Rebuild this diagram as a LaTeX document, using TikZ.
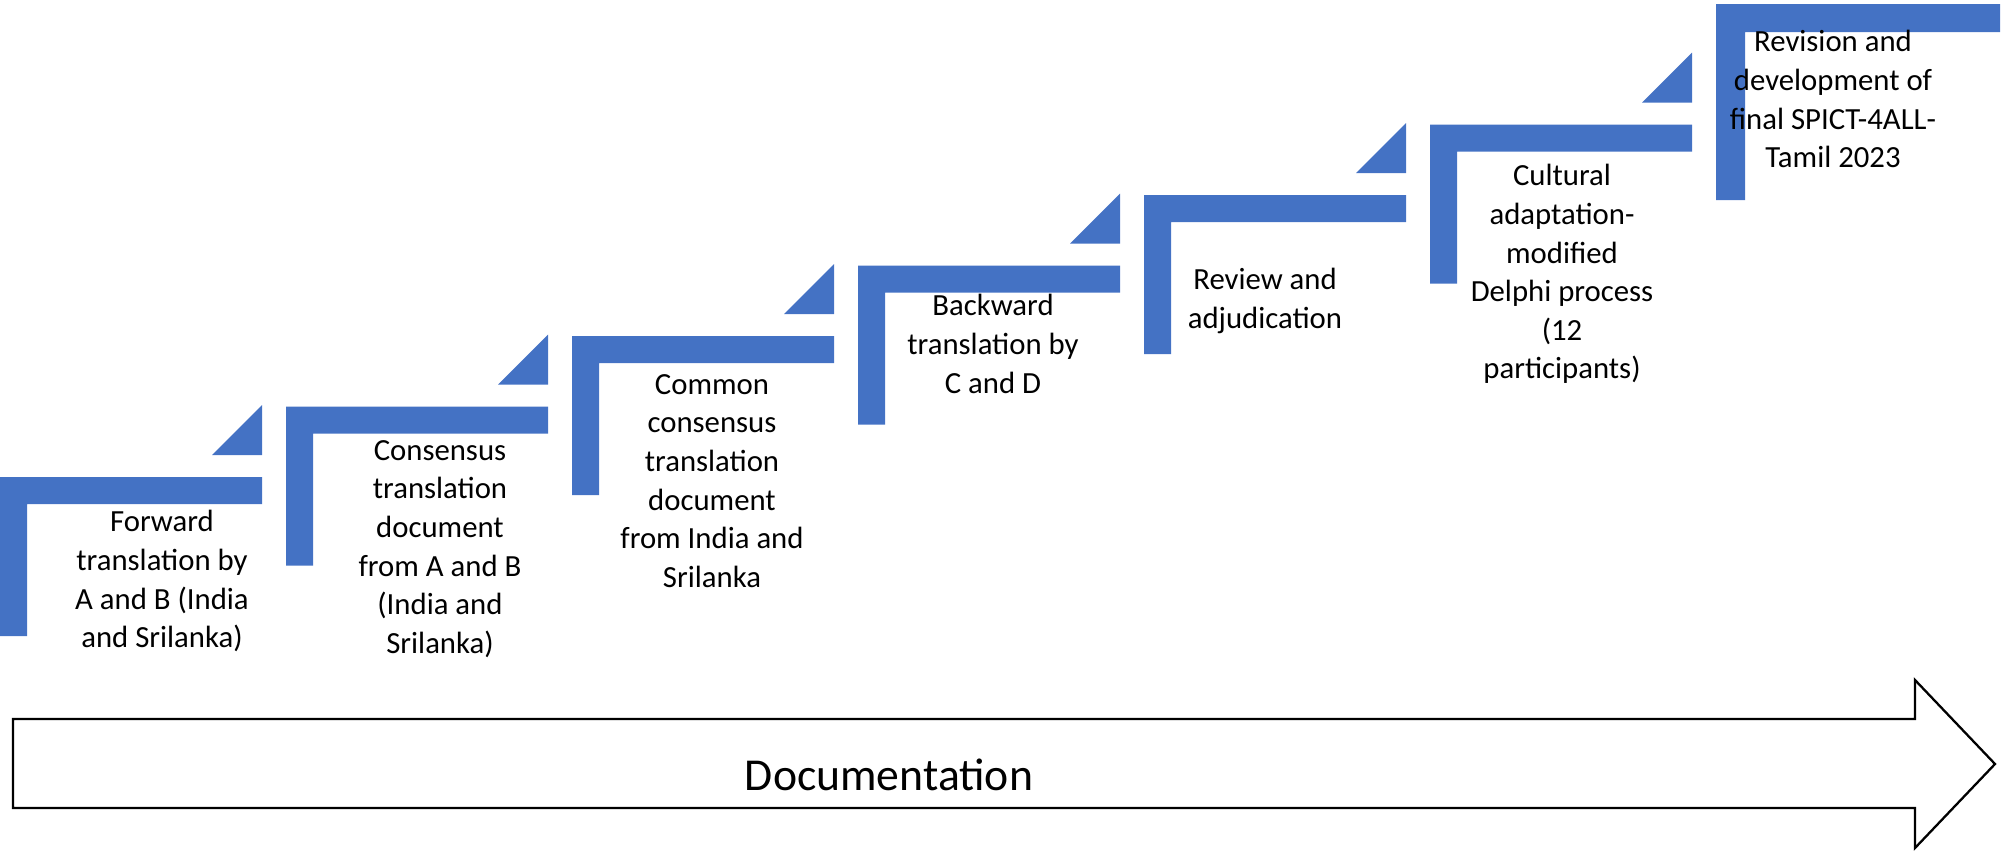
\documentclass[tikz,border=0pt]{standalone}
\usepackage{fontspec}
\setmainfont{Carlito}
\definecolor{stepblue}{RGB}{68,114,196}
\tikzset{
  stair/.style={fill=stepblue},
  steptext/.style={anchor=north, inner sep=0pt, align=center,
    font=\fontsize{17.5}{22}\selectfont}
}
\begin{document}
\begin{tikzpicture}[x=0.02cm, y=-0.02cm]
      \useasboundingbox (0,0) rectangle (2005,860);

      % stairs
      \foreach \i in {0,...,5} {
        \pgfmathsetmacro{\lx}{286*\i}
        \pgfmathsetmacro{\ty}{477-70.5*\i}
        \fill[stair] (\lx,\ty) -- ++(262,0) -- ++(0,27) -- ++(-235,0) -- ++(0,132) -- ++(-27,0) -- cycle;
        \fill[stair] (\lx+262,\ty-22) -- ++(0,-50) -- ++(-50,50) -- cycle;
      }
      \fill[stair] (1716,4) -- (2000,4) -- (2000,32) -- (1745,32) -- (1745,200) -- (1716,200) -- cycle;

      % labels
      \node[steptext] (s1) at (162,510) {Forward\\translation by\\A and B (India\\and Srilanka)};
      \node[steptext] (s2) at (440,440) {Consensus\\translation\\document\\from A and B\\(India and\\Srilanka)};
      \node[steptext] (s3) at (712,374) {Common\\consensus\\translation\\document\\from India and\\Srilanka};
      \node[steptext] (s4) at (993,294) {Backward\\translation by\\C and D};
      \node[steptext] (s5) at (1265,268) {Review and\\adjudication};
      \node[steptext] (s6) at (1562,164) {Cultural\\adaptation-\\modified\\Delphi process\\(12\\participants)};
      \node[steptext] (s7) at (1833,30) {Revision and\\development of\\final SPICT-4ALL-\\Tamil 2023};

      % documentation arrow
      \draw[line width=1.3pt, fill=white] (13,719) -- (1915,719) -- (1915,680) -- (1995,764) -- (1915,848) -- (1915,808) -- (13,808) -- cycle;
      \node[font=\fontsize{26}{30}\selectfont] (doc) at (889,775) {Documentation};
\end{tikzpicture}
\end{document}
